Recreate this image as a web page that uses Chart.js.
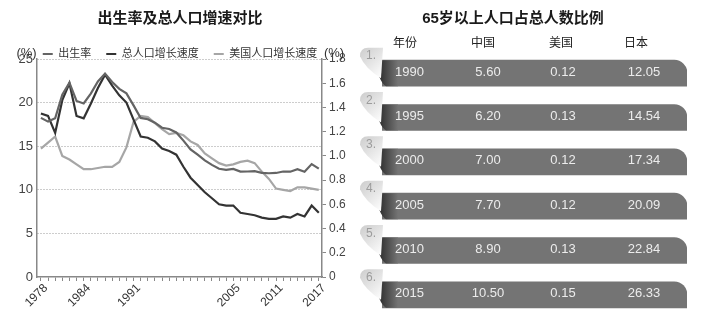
<!DOCTYPE html>
<html>
<head>
<meta charset="utf-8">
<script src="https://cdn.jsdelivr.net/npm/chart.js@4.4.0/dist/chart.umd.min.js"></script>
<style>
	body { margin: 0; background: #fff; }
	#wrap { position: relative; width: 711px; height: 321px; }
	#growth { position: absolute; left: 0; top: 0; }
	#aged { position: absolute; left: 360px; top: 0; }
</style>
</head>
<body>
<div id="wrap">
	<canvas id="growth" width="360" height="321"></canvas>
	<canvas id="aged" width="351" height="321"></canvas>
</div>
<script>
// left chart data
const years = [1978, 1979, 1980, 1981, 1982, 1983, 1984, 1985, 1986, 1987,
	1988, 1989, 1990, 1991, 1992, 1993, 1994, 1995, 1996, 1997,
	1998, 1999, 2000, 2001, 2002, 2003, 2004, 2005, 2006, 2007,
	2008, 2009, 2010, 2011, 2012, 2013, 2014, 2015, 2016, 2017];
const tickYears = [1978, 1984, 1991, 2005, 2011, 2017];
const leftTicks = [0, 5, 10, 15, 20, 25];

// 出生率 (left axis)
const birthRate = [18.25, 17.82, 18.21, 20.91, 22.28, 20.19, 19.90, 21.04, 22.43, 23.33,
	22.37, 21.58, 21.06, 19.68, 18.24, 18.09, 17.70, 17.12, 16.98, 16.57,
	15.64, 14.64, 14.03, 13.38, 12.86, 12.41, 12.29, 12.40, 12.09, 12.10,
	12.14, 11.95, 11.90, 11.93, 12.10, 12.08, 12.37, 12.07, 12.95, 12.43];
// 总人口增长速度 (right axis)
const totalGrowth = [1.35, 1.33, 1.19, 1.46, 1.60, 1.33, 1.31, 1.43, 1.56, 1.67,
	1.58, 1.50, 1.44, 1.30, 1.16, 1.15, 1.12, 1.06, 1.04, 1.01,
	0.91, 0.82, 0.76, 0.70, 0.65, 0.60, 0.59, 0.59, 0.53, 0.52,
	0.51, 0.49, 0.48, 0.48, 0.50, 0.49, 0.52, 0.50, 0.59, 0.53];
// 美国人口增长速度 (right axis)
const usGrowth = [1.06, 1.11, 1.16, 1.00, 0.97, 0.93, 0.89, 0.89, 0.90, 0.91,
	0.91, 0.95, 1.07, 1.28, 1.33, 1.32, 1.27, 1.22, 1.18, 1.19,
	1.17, 1.12, 1.09, 1.02, 0.98, 0.94, 0.92, 0.93, 0.95, 0.96,
	0.94, 0.87, 0.81, 0.73, 0.72, 0.71, 0.74, 0.74, 0.73, 0.72];

// right table data
const tableHeaders = ['年份', '中国', '美国', '日本'];
const tableYears = [1990, 1995, 2000, 2005, 2010, 2015];
const chinaAged = [5.60, 6.20, 7.00, 7.70, 8.90, 10.50];
const usAged = [0.12, 0.13, 0.12, 0.12, 0.13, 0.15];
const japanAged = [12.05, 14.54, 17.34, 20.09, 22.84, 26.33];
const rowBand = [1, 1, 1, 1, 1, 1];

Chart.defaults.font.family = '"Liberation Sans", "Noto Sans CJK SC", sans-serif';
const FONT = '"Liberation Sans", "Noto Sans CJK SC", sans-serif';

const toPoints = arr => arr.map((v, i) => ({ x: years[i], y: v }));

// shrink the legend box so the plot starts right under it
const legendFit = {
	id: 'legendFit',
	beforeInit(chart) {
		const fit = chart.legend.fit;
		chart.legend.fit = function () {
			fit.call(this);
			this.height -= 10.5;
		};
	}
};

// (%) unit labels above both y axes
const unitLabels = {
	id: 'unitLabels',
	afterDraw(chart) {
		const ctx = chart.ctx, area = chart.chartArea;
		ctx.save();
		ctx.font = '13px ' + FONT;
		ctx.fillStyle = '#333';
		ctx.textAlign = 'center';
		ctx.textBaseline = 'middle';
		ctx.fillText('(%)', area.left - 10.5, area.top - 6);
		ctx.fillText('(%)', area.right + 12, area.top - 6);
		ctx.restore();
	}
};

const growthChart = new Chart(document.getElementById('growth'), {
	type: 'line',
	data: {
		datasets: [{
			label: '出生率',
			data: toPoints(birthRate),
			yAxisID: 'y',
			borderColor: '#646464',
			backgroundColor: '#646464',
			borderWidth: 2.2
		}, {
			label: '总人口增长速度',
			data: toPoints(totalGrowth),
			yAxisID: 'y1',
			borderColor: '#333333',
			backgroundColor: '#333333',
			borderWidth: 2.2
		}, {
			label: '美国人口增长速度',
			data: toPoints(usGrowth),
			yAxisID: 'y1',
			borderColor: '#a6a6a6',
			backgroundColor: '#a6a6a6',
			borderWidth: 2.2
		}]
	},
	options: {
		responsive: false,
		animation: false,
		elements: { point: { radius: 0 }, line: { tension: 0 } },
		plugins: {
			title: {
				display: true,
				text: '出生率及总人口增速对比',
				color: '#1a1a1a',
				font: { size: 15, weight: 'bold' },
				padding: { top: 10, bottom: 5.5 }
			},
			legend: {
				labels: {
					usePointStyle: true,
					pointStyle: 'line',
					pointStyleWidth: 10,
					color: '#333',
					font: { size: 11 },
					padding: 15
				}
			},
			tooltip: { enabled: false }
		},
		scales: {
			x: {
				type: 'linear',
				min: 1977.45,
				max: 2017.45,
				afterBuildTicks: s => { s.ticks = years.map(v => ({ value: v })); },
				afterFit: s => { s.height = 44; },
				ticks: {
					autoSkip: false,
					minRotation: 45,
					maxRotation: 45,
					color: '#333',
					font: { size: 12 },
					padding: 0,
					labelOffset: 5,
					callback: v => tickYears.includes(v) ? String(v) : ''
				},
				grid: { drawOnChartArea: false, tickLength: 4, color: '#888' },
				border: { display: true, color: '#888', width: 1.5 }
			},
			y: {
				position: 'left',
				min: 0,
				max: 25,
				afterBuildTicks: s => { s.ticks = leftTicks.map(v => ({ value: v })); },
				afterFit: s => { s.width = 37; },
				ticks: { color: '#444', font: { size: 13 }, padding: 4 },
				grid: {
					drawTicks: false,
					color: c => c.tick && c.tick.value === 0 ? 'rgba(0,0,0,0)' : '#9a9a9a'
				},
				border: { display: true, color: '#888', width: 1.5, dash: [1, 2] }
			},
			y1: {
				position: 'right',
				min: 0,
				max: 1.8,
				afterFit: s => { s.width = 38; },
				ticks: {
					stepSize: 0.2,
					color: '#444',
					font: { size: 12 },
					padding: 3,
					callback: v => v === 0 ? '0' : v.toFixed(1)
				},
				grid: { drawOnChartArea: false, tickLength: 4, color: '#888' },
				border: { display: true, color: '#888', width: 1.5 }
			}
		}
	},
	plugins: [legendFit, unitLabels]
});

// title, header, curled tabs and cell texts for the table
const tableText = {
	id: 'tableText',
	afterDatasetsDraw(chart) {
		const ctx = chart.ctx;
		const yScale = chart.scales.y;
		ctx.save();
		tableYears.forEach((yr, i) => {
			const yc = yScale.getPixelForValue(i);
			const yt = yc - 13, yb = yc + 13;

			// curled shadow on the band's left end
			let g = ctx.createLinearGradient(16, 0, 38, 0);
			g.addColorStop(0, '#222');
			g.addColorStop(1, '#747474');
			ctx.fillStyle = g;
			ctx.beginPath();
			ctx.moveTo(16, yt);
			ctx.lineTo(38, yt);
			ctx.lineTo(38, yb);
			ctx.lineTo(26, yb);
			ctx.quadraticCurveTo(18, yb - 5, 16, yt);
			ctx.fill();

			// light folded tab
			g = ctx.createLinearGradient(0, yt - 12, 24, yt + 14);
			g.addColorStop(0, '#cdcdcd');
			g.addColorStop(0.5, '#e4e4e4');
			g.addColorStop(1, '#fdfdfd');
			ctx.fillStyle = g;
			ctx.beginPath();
			ctx.moveTo(0, yt - 4);
			ctx.quadraticCurveTo(0, yt - 12.5, 8, yt - 12.5);
			ctx.lineTo(23, yt - 12.5);
			ctx.lineTo(21, yt + 18);
			ctx.quadraticCurveTo(5, yt + 8, 0, yt - 4);
			ctx.fill();

			ctx.font = '12px ' + FONT;
			ctx.fillStyle = '#9c9c9c';
			ctx.textAlign = 'left';
			ctx.textBaseline = 'middle';
			ctx.fillText((i + 1) + '.', 6, yt - 4);

			// cell texts
			ctx.font = '13px ' + FONT;
			ctx.fillStyle = '#ececec';
			ctx.textAlign = 'left';
			ctx.fillText(String(yr), 35, yc - 1);
			ctx.textAlign = 'center';
			ctx.fillText(chinaAged[i].toFixed(2), 128, yc - 1);
			ctx.fillText(usAged[i].toFixed(2), 203, yc - 1);
			ctx.fillText(japanAged[i].toFixed(2), 284, yc - 1);
		});
		ctx.restore();
	},
	afterDraw(chart) {
		const ctx = chart.ctx;
		ctx.save();
		ctx.textAlign = 'center';
		ctx.textBaseline = 'middle';
		ctx.fillStyle = '#1a1a1a';
		ctx.font = 'bold 15px ' + FONT;
		ctx.fillText('65岁以上人口占总人数比例', 153, 19);
		ctx.font = '12px ' + FONT;
		ctx.fillStyle = '#222';
		const headerX = [45, 123, 201, 276];
		tableHeaders.forEach((h, i) => ctx.fillText(h, headerX[i], 44));
		ctx.restore();
	}
};

const agedChart = new Chart(document.getElementById('aged'), {
	type: 'bar',
	data: {
		labels: tableYears,
		datasets: [{
			data: rowBand,
			backgroundColor: '#747474',
			barThickness: 26,
			borderRadius: { topLeft: 0, topRight: 13, bottomLeft: 0, bottomRight: 0 }
		}]
	},
	options: {
		indexAxis: 'y',
		responsive: false,
		animation: false,
		layout: { padding: { top: 51, left: 22, right: 24, bottom: 4 } },
		plugins: { legend: { display: false }, tooltip: { enabled: false } },
		scales: {
			x: { display: false, min: 0, max: 1 },
			y: { display: false }
		}
	},
	plugins: [tableText]
});
</script>
</body>
</html>
